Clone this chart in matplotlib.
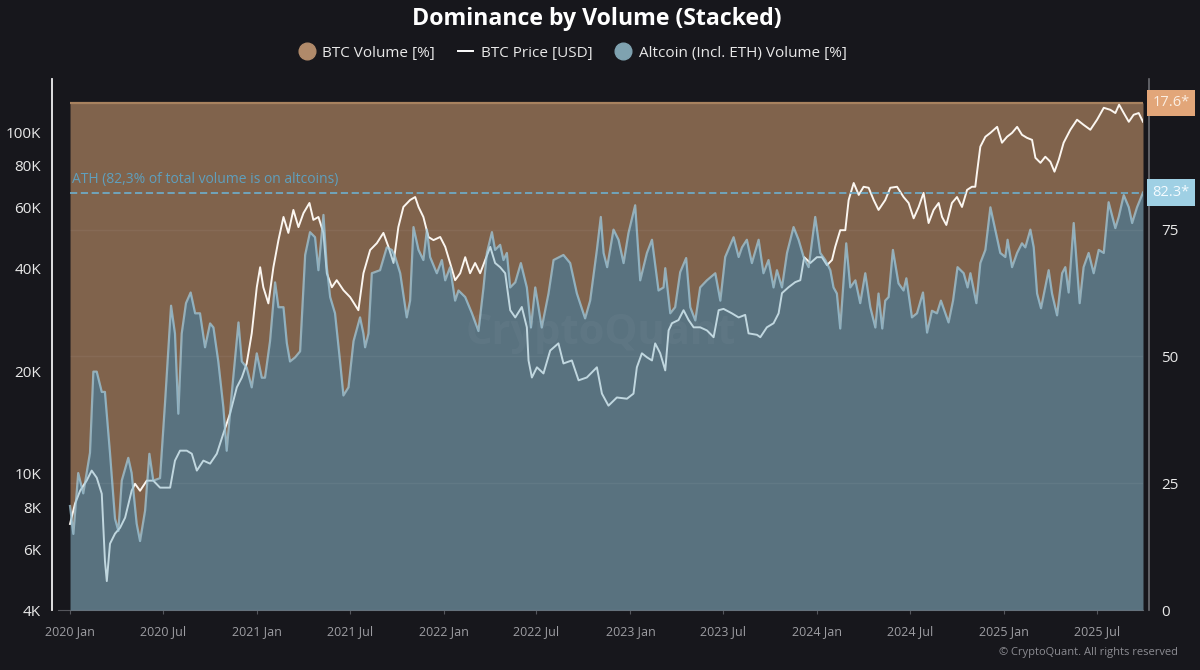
import matplotlib
matplotlib.use("Agg")
import numpy as np
import pandas as pd
import matplotlib.pyplot as plt
import matplotlib.dates as mdates
import matplotlib.ticker as mticker
import matplotlib.transforms as mtransforms
from matplotlib.lines import Line2D

plt.rcParams['font.family'] = ['Open Sans', 'DejaVu Sans']

# ---------------- data ----------------
START = "2020-01-01"
# Altcoin (incl. ETH) share of volume [%]; times in years since START
alt_t = [0.000, 0.018, 0.044, 0.071, 0.107, 0.125, 0.143, 0.170, 0.187, 0.214,
         0.241, 0.259, 0.277, 0.312, 0.330, 0.357, 0.375, 0.402, 0.425, 0.446,
         0.482, 0.509, 0.541, 0.562, 0.580, 0.598, 0.621, 0.646, 0.670, 0.696,
         0.723, 0.750, 0.768, 0.794, 0.821, 0.839, 0.866, 0.902, 0.920, 0.946,
         0.973, 1.000, 1.027, 1.044, 1.071, 1.098, 1.116, 1.143, 1.161, 1.178,
         1.205, 1.232, 1.259, 1.285, 1.312, 1.330, 1.357, 1.375, 1.393, 1.419,
         1.446, 1.464, 1.491, 1.518, 1.553, 1.571, 1.580, 1.598, 1.616, 1.660,
         1.696, 1.723, 1.741, 1.768, 1.803, 1.821, 1.839, 1.866, 1.892, 1.911,
         1.928, 1.964, 1.991, 2.009, 2.035, 2.062, 2.080, 2.116, 2.152, 2.187,
         2.214, 2.232, 2.259, 2.276, 2.303, 2.321, 2.339, 2.357, 2.384, 2.414,
         2.446, 2.468, 2.491, 2.526, 2.562, 2.589, 2.642, 2.678, 2.714, 2.758,
         2.785, 2.821, 2.842, 2.857, 2.876, 2.910, 2.937, 2.964, 2.990, 3.026,
         3.053, 3.089, 3.116, 3.151, 3.178, 3.187, 3.214, 3.240, 3.267, 3.299,
         3.321, 3.348, 3.374, 3.410, 3.455, 3.482, 3.508, 3.553, 3.580, 3.598,
         3.624, 3.651, 3.687, 3.713, 3.740, 3.767, 3.785, 3.812, 3.839, 3.874,
         3.901, 3.928, 3.955, 3.990, 4.017, 4.044, 4.071, 4.088, 4.106, 4.124,
         4.156, 4.178, 4.205, 4.231, 4.258, 4.285, 4.312, 4.329, 4.349, 4.365,
         4.383, 4.406, 4.436, 4.463, 4.478, 4.508, 4.535, 4.567, 4.589, 4.615,
         4.642, 4.663, 4.687, 4.704, 4.728, 4.752, 4.785, 4.806, 4.821, 4.853,
         4.874, 4.901, 4.928, 4.954, 4.981, 5.008, 5.020, 5.044, 5.071, 5.097,
         5.115, 5.142, 5.160, 5.178, 5.199, 5.240, 5.258, 5.285, 5.312, 5.329,
         5.347, 5.374, 5.406, 5.427, 5.454, 5.481, 5.508, 5.535, 5.561, 5.597,
         5.615, 5.642, 5.669, 5.687, 5.713, 5.745]
alt_pct = [20.5, 15, 27, 23, 31, 47, 47, 43, 43, 31,
           18, 15.6, 25.5, 30, 27, 17, 13.6, 19.6, 30.8, 25.5,
           26, 41, 60, 54.5, 38.7, 54.5, 60.5, 62.6, 58.5, 58.5,
           51.8, 56.5, 55.7, 49, 40, 31.4, 42.7, 56.7, 49, 47.8,
           43.9, 50.6, 45.8, 45.8, 53, 64.6, 59.7, 59.7, 52.6, 49,
           49.8, 51, 70, 74.5, 73.5, 67, 77.9, 67.6, 61.7, 58.5,
           49, 42.3, 43.9, 53, 57.7, 54.5, 51.8, 54.5, 66.4, 67,
           71.5, 71, 69.6, 66.4, 57.7, 61, 75.5, 71, 69, 75,
           69.6, 66.4, 69, 65, 67.6, 61, 63, 61.7, 58.5, 55,
           63.6, 70.4, 74.5, 71, 72, 69, 70.4, 63.6, 64.6, 68.4,
           63.6, 55.7, 63.6, 55.7, 62.4, 69, 70, 68.4, 62.4, 57.5,
           61, 71, 77.5, 70.4, 67.6, 75, 73, 68.4, 74.3, 79.8,
           65, 70.4, 73, 63, 63.6, 67.4, 58.5, 59.7, 66.6, 69.4,
           59.7, 57.1, 63.6, 65, 66.4, 61, 69.6, 73.5, 69.6, 71.5,
           73, 68.4, 73, 66.4, 69, 63.6, 67, 63.6, 70.4, 75.5,
           73, 69.6, 67.6, 77.5, 70.4, 69, 67, 63.6, 62.4, 55.5,
           72.3, 63.6, 65, 60.5, 66.4, 59.7, 55.7, 62.4, 55.5, 61,
           61.7, 71, 64.4, 63, 65.4, 57.7, 58.5, 62.6, 54.7, 59,
           58.5, 61, 58.5, 56.7, 61, 67.6, 66.4, 63.6, 66.4, 60.5,
           68.4, 71, 79.4, 75, 70.4, 69.6, 73, 67.6, 70.4, 72.3,
           71.5, 75, 71.5, 62.4, 59.5, 67, 62.4, 58.1, 66.4, 67.6,
           62.6, 76.3, 60.5, 67.6, 70.4, 66.4, 71, 70.4, 80.4, 75.3,
           77.5, 81.8, 79.4, 76.3, 79.4, 82.3]

# BTC price [USD]; times in years since START
price_t = [0.000, 0.027, 0.054, 0.089, 0.116, 0.143, 0.170, 0.187, 0.197, 0.214,
           0.241, 0.268, 0.295, 0.330, 0.348, 0.375, 0.411, 0.446, 0.482, 0.536,
           0.562, 0.589, 0.625, 0.652, 0.679, 0.714, 0.750, 0.786, 0.821, 0.857,
           0.893, 0.920, 0.946, 0.973, 1.000, 1.018, 1.035, 1.062, 1.089, 1.116,
           1.143, 1.169, 1.196, 1.223, 1.250, 1.282, 1.303, 1.330, 1.357, 1.375,
           1.402, 1.428, 1.464, 1.500, 1.544, 1.571, 1.607, 1.643, 1.678, 1.705,
           1.732, 1.758, 1.785, 1.821, 1.848, 1.866, 1.892, 1.919, 1.946, 1.982,
           2.009, 2.035, 2.062, 2.089, 2.116, 2.142, 2.169, 2.196, 2.223, 2.250,
           2.276, 2.303, 2.330, 2.357, 2.384, 2.419, 2.446, 2.455, 2.473, 2.500,
           2.535, 2.571, 2.615, 2.642, 2.687, 2.723, 2.767, 2.821, 2.848, 2.883,
           2.928, 2.982, 3.017, 3.035, 3.062, 3.089, 3.116, 3.133, 3.160, 3.187,
           3.205, 3.223, 3.258, 3.285, 3.312, 3.339, 3.374, 3.410, 3.446, 3.473,
           3.499, 3.544, 3.580, 3.615, 3.633, 3.678, 3.696, 3.731, 3.767, 3.794,
           3.812, 3.847, 3.883, 3.910, 3.931, 3.964, 3.999, 4.026, 4.053, 4.080,
           4.097, 4.124, 4.151, 4.169, 4.196, 4.223, 4.249, 4.276, 4.303, 4.329,
           4.365, 4.392, 4.428, 4.463, 4.490, 4.517, 4.544, 4.570, 4.597, 4.624,
           4.651, 4.669, 4.692, 4.722, 4.749, 4.776, 4.803, 4.829, 4.847, 4.856,
           4.874, 4.901, 4.928, 4.964, 4.990, 5.017, 5.044, 5.071, 5.097, 5.124,
           5.151, 5.169, 5.196, 5.222, 5.249, 5.271, 5.294, 5.320, 5.356, 5.392,
           5.427, 5.463, 5.499, 5.535, 5.570, 5.597, 5.617, 5.642, 5.669, 5.695,
           5.722, 5.745]
price_usd = [7140, 8190, 8930, 9560, 10230, 9750, 8750, 5570, 4860, 6250,
             6690, 6960, 7450, 8930, 9360, 8930, 9560, 9560, 9120, 9120,
             10940, 11700, 11700, 11460, 10230, 10940, 10720, 11460, 13130, 15030,
             17920, 19150, 21050, 25780, 35170, 40250, 35170, 31550, 40250, 48310,
             56460, 50720, 59200, 52740, 57950, 62040, 55360, 56460, 50720, 38650,
             35170, 36880, 34480, 32890, 30130, 38650, 45200, 47340, 50720, 46160,
             41410, 52740, 60400, 63300, 64580, 60400, 56460, 49340, 48310, 49340,
             46160, 41410, 36880, 38650, 43060, 38650, 41410, 38650, 42270, 46160,
             41410, 40250, 38650, 30130, 28700, 30790, 26850, 21480, 19150, 20510,
             19680, 22960, 24100, 21050, 21480, 18790, 19150, 20510, 17180, 15840,
             16740, 16600, 17180, 20510, 22540, 21940, 21480, 24100, 22540, 20090,
             26300, 27600, 28200, 30130, 28200, 26850, 26850, 26300, 25120, 30130,
             30400, 29500, 28700, 29200, 25780, 25530, 25120, 26850, 27600, 29500,
             33800, 35170, 36400, 36880, 43060, 41410, 43060, 43060, 40810, 42270,
             46160, 51650, 51650, 63300, 70970, 65500, 69200, 68730, 63300, 59200,
             63300, 68730, 69200, 64580, 62040, 55950, 60400, 66400, 54200, 59200,
             62040, 56460, 53500, 62040, 64580, 60400, 67750, 69200, 69200, 76000,
             90650, 96900, 99500, 103600, 93100, 96900, 99500, 103600, 98200, 96200,
             94900, 84100, 81300, 84700, 81900, 76600, 83000, 93100, 101600, 108700,
             105000, 101600, 108700, 117800, 116200, 113700, 120300, 113700, 107200, 112400,
             113700, 107200]

ATH_ALT = 82.3
LAST_BTC_LABEL = "17.6*"
LAST_ALT_LABEL = "82.3*"
price_ticks = [4000, 6000, 8000, 10000, 20000, 40000, 60000, 80000, 100000]
price_tick_labels = ["4K", "6K", "8K", "10K", "20K", "40K", "60K", "80K", "100K"]
pct_ticks = [0, 25, 50, 75]

# ---------------- style ----------------
BG = "#17171c"
BROWN = "#80634c"
ALT_FILL = "#91bed2"
ALT_EDGE = "#a3cadb"
TXT = "#e8e8e8"

start = pd.Timestamp(START)
alt_dates = start + pd.to_timedelta(np.array(alt_t) * 365.25, unit="D")
price_dates = start + pd.to_timedelta(np.array(price_t) * 365.25, unit="D")
alt_arr = np.array(alt_pct)

fig = plt.figure(figsize=(12, 6.7), dpi=100, facecolor=BG)
rect = [58 / 1200, 1 - 610 / 670, (1143 - 58) / 1200, (610 - 79) / 670]
ax_b = fig.add_axes(rect)
ax_p = fig.add_axes(rect, sharex=ax_b)
ax_t = fig.add_axes(rect, sharex=ax_b)
ax_b.set_zorder(1); ax_p.set_zorder(2); ax_t.set_zorder(3)
ax_b.set_facecolor(BG)
ax_p.patch.set_visible(False)
ax_t.patch.set_visible(False)

# BTC volume share (stacked on top of altcoins up to 100)
ax_b.fill_between(alt_dates, alt_arr, 100, color=BROWN, lw=0)
ax_b.hlines(100, alt_dates[0], alt_dates[-1], color="#a8825f", lw=1.6)

# BTC price
ax_p.plot(price_dates, price_usd, color="#fbf6f0", lw=1.4)
ax_p.set_yscale("log")
ax_p.set_ylim(4000, 143000)

# Altcoin share (translucent, on top of price line)
ax_t.fill_between(alt_dates, 0, alt_arr, color=ALT_FILL, alpha=0.55, lw=0)
ax_t.plot(alt_dates, alt_arr, color=ALT_EDGE, lw=1.6, alpha=0.75)
ax_t.hlines(pct_ticks[1:], alt_dates[0], alt_dates[-1], color="white", alpha=0.05, lw=1)
ax_t.hlines(ATH_ALT, alt_dates[0], alt_dates[-1], color="#6fa9c4", lw=1.3,
            linestyles=(0, (4, 2)))
ax_t.text(alt_dates[0] + pd.Timedelta(days=3), ATH_ALT + 1.2,
          "ATH (82,3% of total volume is on altcoins)", color="#5f9fbd",
          fontsize=10, ha="left", va="bottom")
ax_t.text(0.5, 0.52, "CryptoQuant", transform=ax_t.transAxes, fontsize=30,
          fontweight="bold", color="white", alpha=0.035, ha="center", va="center")

for a in (ax_b, ax_t):
    a.set_ylim(0, 104.7)

ax_b.set_xlim(start - pd.Timedelta(days=23.5), alt_dates[-1])

# spines
for a in (ax_b, ax_p, ax_t):
    for s in a.spines.values():
        s.set_visible(False)
ax_b.spines["bottom"].set_visible(True)
ax_b.spines["bottom"].set_color("#55565c")
ax_p.spines["left"].set_visible(True)
ax_p.spines["left"].set_color("#f0f0f0")
ax_p.spines["left"].set_linewidth(1.3)
ax_p.spines["left"].set_position(("outward", 4.3))
ax_t.spines["right"].set_visible(True)
ax_t.spines["right"].set_color("#6c6d72")
ax_t.spines["right"].set_linewidth(1.2)
ax_t.spines["right"].set_position(("outward", 4.3))

# x axis
ax_b.xaxis.set_major_locator(mdates.MonthLocator(bymonth=[1, 7]))
ax_b.xaxis.set_major_formatter(mdates.DateFormatter("%Y %b"))
ax_b.tick_params(axis="x", colors="#55565c", labelcolor="#9d9da2", labelsize=9,
                 length=3, pad=7.5)
ax_b.tick_params(axis="y", left=False, labelleft=False)
ax_p.tick_params(axis="x", bottom=False, labelbottom=False)
ax_t.tick_params(axis="x", bottom=False, labelbottom=False)

# left price axis
ax_p.yaxis.set_major_locator(mticker.FixedLocator(price_ticks))
ax_p.yaxis.set_major_formatter(mticker.FixedFormatter(price_tick_labels))
ax_p.yaxis.set_minor_locator(mticker.NullLocator())
ax_p.tick_params(axis="y", length=0, pad=8, labelsize=11, labelcolor=TXT)

# right percent axis
ax_t.yaxis.tick_right()
ax_t.set_yticks(pct_ticks)
ax_t.tick_params(axis="y", length=0, pad=8.5, labelsize=11, labelcolor=TXT)

# last value markers on the right
trans = mtransforms.blended_transform_factory(ax_t.transAxes, ax_t.transData)
ax_t.text(1.0258, 100, LAST_BTC_LABEL, transform=trans, ha="center", va="center",
          fontsize=10.5, color="#fbeee2", clip_on=False,
          bbox=dict(boxstyle="square,pad=0.4", fc="#e2a679", ec="none"))
ax_t.text(1.0258, ATH_ALT, LAST_ALT_LABEL, transform=trans, ha="center", va="center",
          fontsize=10.5, color="#f4fbff", clip_on=False,
          bbox=dict(boxstyle="square,pad=0.4", fc="#9fd0e4", ec="none"))

# title & legend
fig.text(0.4975, 1 - 19 / 670, "Dominance by Volume (Stacked)", ha="center",
         va="center", fontsize=16.7, fontweight="bold", color="white")
handles = [
    Line2D([], [], marker="o", ls="", color="#b08a6a", markersize=12),
    Line2D([], [], color="white", lw=1.4),
    Line2D([], [], marker="o", ls="", color="#7fa2b0", markersize=12),
]
labels = ["BTC Volume [%]", "BTC Price [USD]", "Altcoin (Incl. ETH) Volume [%]"]
fig.legend(handles, labels, loc="center", bbox_to_anchor=(0.4775, 1 - 53 / 670),
           ncol=3, frameon=False, fontsize=11, labelcolor=TXT, handlelength=1.0,
           handletextpad=0.5, columnspacing=1.5)

fig.text(1178 / 1200, 1 - 652 / 670, "\u00a9 CryptoQuant. All rights reserved",
         ha="right", va="center", fontsize=8, color="#8c8c92")

fig.savefig("out.png", dpi=100, facecolor=BG)
